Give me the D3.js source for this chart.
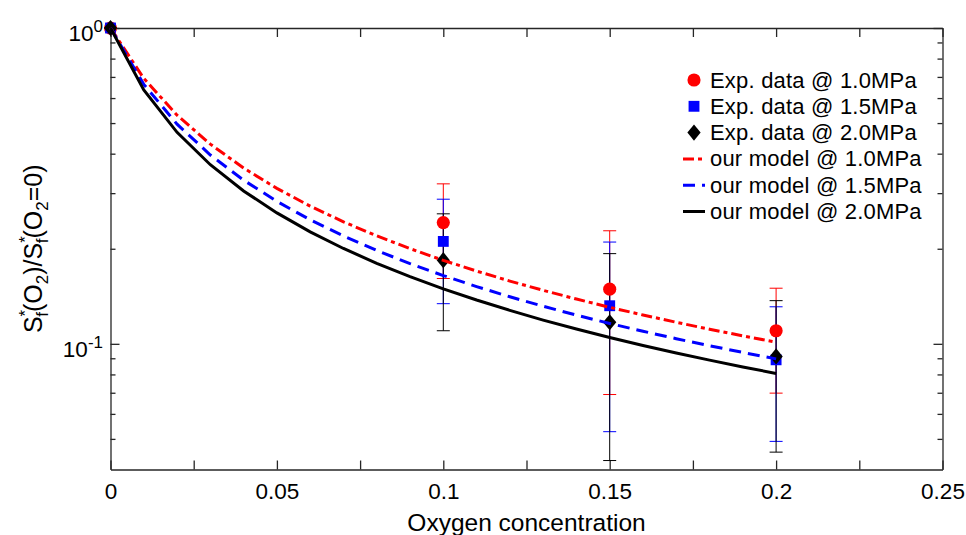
<!DOCTYPE html>
<html>
<head>
<meta charset="utf-8">
<script src="https://cdn.jsdelivr.net/npm/d3@7"></script>
<style>
  html, body { margin: 0; padding: 0; background: #fff; }
  svg { display: block; font-family: "Liberation Sans", Arial, Helvetica, sans-serif; }
  .axis path, .axis line { stroke: #262626; stroke-width: 1.3; }
  .axis text { fill: #000; }
</style>
</head>
<body>
<svg id="chart" width="966" height="535"></svg>
<script>
// Oxygen concentration at which the experiments were run
const expX = [0, 0.1, 0.15, 0.2];

// Experimental mean and error bounds, per pressure
const exp10 = [1, 0.242, 0.149, 0.110];
const exp10Lo = [1, 0.161, 0.0691, 0.0698];
const exp10Hi = [1, 0.321, 0.228, 0.150];

const exp15 = [1, 0.211, 0.132, 0.089];
const exp15Lo = [1, 0.134, 0.0527, 0.0491];
const exp15Hi = [1, 0.287, 0.210, 0.131];

const exp20 = [1, 0.184, 0.117, 0.0912];
const exp20Lo = [1, 0.110, 0.0427, 0.0454];
const exp20Hi = [1, 0.258, 0.193, 0.137];

// Model predictions on a 0.01 grid
const modelX = [0, 0.01, 0.02, 0.03, 0.04, 0.05, 0.06, 0.07, 0.08, 0.09, 0.10,
                0.11, 0.12, 0.13, 0.14, 0.15, 0.16, 0.17, 0.18, 0.19, 0.20];
const model10 = [1, 0.6925, 0.5297, 0.4288, 0.3602, 0.3106, 0.2729, 0.2434, 0.2197, 0.2002, 0.1838,
                 0.1700, 0.1580, 0.1477, 0.1386, 0.1305, 0.1234, 0.1170, 0.1112, 0.1060, 0.1012];
const model15 = [1, 0.6631, 0.4960, 0.3962, 0.3298, 0.2825, 0.2470, 0.2195, 0.1975, 0.1795, 0.1645,
                 0.1518, 0.1409, 0.1315, 0.1233, 0.1160, 0.1096, 0.1038, 0.0986, 0.0939, 0.0896];
const model20 = [1, 0.6369, 0.4673, 0.3690, 0.3049, 0.2597, 0.2262, 0.2004, 0.1799, 0.1631, 0.1493,
                 0.1376, 0.1276, 0.1189, 0.1114, 0.1047, 0.0988, 0.0935, 0.0888, 0.0845, 0.0806];

// Axis ticks
const xTicks = [0, 0.025, 0.05, 0.075, 0.1, 0.125, 0.15, 0.175, 0.2, 0.225, 0.25];
const xTickLabels = ["0", "0.05", "0.1", "0.15", "0.2", "0.25"];
const xLabelled = [0, 0.05, 0.1, 0.15, 0.2, 0.25];
const yMajor = [0.1, 1];
const yMajorExp = ["-1", "0"];
const yMinor = [0.05, 0.06, 0.07, 0.08, 0.09, 0.2, 0.3, 0.4, 0.5, 0.6, 0.7, 0.8, 0.9];

const legendLabels = ["Exp. data @ 1.0MPa", "Exp. data @ 1.5MPa", "Exp. data @ 2.0MPa",
                      "our model @ 1.0MPa", "our model @ 1.5MPa", "our model @ 2.0MPa"];

const svg = d3.select("#chart");
const x = d3.scaleLinear().domain([0, 0.25]).range([110.5, 942.5]);
const y = d3.scaleLog().domain([0.04, 1]).range([469.5, 28]);

const plotL = x.range()[0], plotR = x.range()[1];
const plotT = y.range()[1], plotB = y.range()[0];

// ---- axes (box with inward ticks) ----
const fmtX = v => {
  const i = xLabelled.findIndex(t => Math.abs(t - v) < 1e-9);
  return i >= 0 ? xTickLabels[i] : "";
};
const gx = svg.append("g").attr("class", "axis")
  .attr("transform", `translate(0,${plotB})`)
  .call(d3.axisBottom(x).tickValues(xTicks).tickSize(-9).tickSizeOuter(0).tickPadding(14).tickFormat(fmtX));
gx.selectAll("text").attr("font-size", 22.5).attr("dy", "0.71em");

svg.append("g").attr("class", "axis")
  .attr("transform", `translate(0,${plotT})`)
  .call(d3.axisTop(x).tickValues(xTicks).tickSize(-9).tickSizeOuter(0).tickFormat(""));

svg.append("g").attr("class", "axis")
  .attr("transform", `translate(${plotL},0)`)
  .call(d3.axisLeft(y).tickValues(yMajor).tickSize(-9).tickSizeOuter(0).tickFormat(""));
svg.append("g").attr("class", "axis")
  .attr("transform", `translate(${plotL},0)`)
  .call(d3.axisLeft(y).tickValues(yMinor).tickSize(-5).tickSizeOuter(0).tickFormat(""))
  .select(".domain").remove();

svg.append("g").attr("class", "axis")
  .attr("transform", `translate(${plotR},0)`)
  .call(d3.axisRight(y).tickValues(yMajor).tickSize(-9).tickSizeOuter(0).tickFormat(""));
svg.append("g").attr("class", "axis")
  .attr("transform", `translate(${plotR},0)`)
  .call(d3.axisRight(y).tickValues(yMinor).tickSize(-5).tickSizeOuter(0).tickFormat(""))
  .select(".domain").remove();

// power-of-ten labels on the log axis
yMajor.forEach((v, i) => {
  const t = svg.append("text")
    .attr("x", plotL - 7.5)
    .attr("y", y(v) + 13)
    .attr("text-anchor", "end")
    .attr("font-size", 22.5)
    .attr("fill", "#000");
  t.append("tspan").text("10");
  t.append("tspan").attr("dy", -9).attr("font-size", 17).text(yMajorExp[i]);
});

// ---- axis titles ----
svg.append("text")
  .attr("x", (plotL + plotR) / 2)
  .attr("y", 531)
  .attr("text-anchor", "middle")
  .attr("font-size", 24.5)
  .attr("fill", "#000")
  .text("Oxygen concentration");

const yl = svg.append("text")
  .attr("transform", `translate(42,${(plotT + plotB) / 2}) rotate(-90)`)
  .attr("text-anchor", "middle")
  .attr("font-size", 25)
  .attr("fill", "#000");
function sStar(sel) {
  sel.append("tspan").text("S");
  sel.append("tspan").attr("dy", -11).attr("font-size", 17).text("*");
  sel.append("tspan").attr("dx", -7).attr("dy", 17).attr("font-size", 17).text("f");
  sel.append("tspan").attr("dy", -6).text("(O");
  sel.append("tspan").attr("dy", 6).attr("font-size", 17).text("2");
}
sStar(yl);
yl.append("tspan").attr("dy", -6).text(")/");
sStar(yl);
yl.append("tspan").attr("dy", -6).text("=0)");

// ---- experimental data with error bars ----
const series = [
  { v: exp10, lo: exp10Lo, hi: exp10Hi, color: "#ff0000", shape: "circle" },
  { v: exp15, lo: exp15Lo, hi: exp15Hi, color: "#0000ff", shape: "square" },
  { v: exp20, lo: exp20Lo, hi: exp20Hi, color: "#000000", shape: "diamond" }
];
// plain rhombus, a little taller than wide
const rhombus = {
  draw(ctx, size) {
    const h = Math.sqrt(size) * 0.62, w = h * 0.82;
    ctx.moveTo(0, -h); ctx.lineTo(w, 0); ctx.lineTo(0, h); ctx.lineTo(-w, 0); ctx.closePath();
  }
};
const symbols = {
  circle: d3.symbol(d3.symbolCircle, 136),
  square: d3.symbol(d3.symbolSquare, 118),
  diamond: d3.symbol(rhombus, 170)
};
const capHalf = 6.5;

series.forEach(s => {
  const g = svg.append("g");
  expX.forEach((xv, i) => {
    const cx = x(xv);
    g.append("line").attr("x1", cx).attr("x2", cx)
      .attr("y1", y(s.lo[i])).attr("y2", y(s.hi[i]))
      .attr("stroke", s.color).attr("stroke-width", 1);
    [s.lo[i], s.hi[i]].forEach(b => {
      g.append("line").attr("x1", cx - capHalf).attr("x2", cx + capHalf)
        .attr("y1", y(b)).attr("y2", y(b))
        .attr("stroke", s.color).attr("stroke-width", 1);
    });
  });
});
series.forEach(s => {
  svg.append("g").selectAll("path").data(expX).join("path")
    .attr("transform", (d, i) => `translate(${x(d)},${y(s.v[i])})`)
    .attr("d", symbols[s.shape]())
    .attr("fill", s.color);
});

// ---- model curves ----
const models = [
  { v: model10, color: "#ff0000", dash: "11,4,4,4" },
  { v: model15, color: "#0000ff", dash: "12,7" },
  { v: model20, color: "#000000", dash: null }
];
const line = d3.line();
models.forEach(m => {
  svg.append("path")
    .attr("d", line(modelX.map((xv, i) => [x(xv), y(m.v[i])])))
    .attr("fill", "none")
    .attr("stroke", m.color)
    .attr("stroke-width", 3)
    .attr("stroke-dasharray", m.dash);
});

// ---- legend ----
const leg = svg.append("g").attr("transform", "translate(0,80)");
const rowH = 26.3;
legendLabels.forEach((lab, i) => {
  const cy = i * rowH;
  if (i < 3) {
    const s = series[i];
    leg.append("path")
      .attr("transform", `translate(694,${cy})`)
      .attr("d", symbols[s.shape]())
      .attr("fill", s.color);
  } else {
    const m = models[i - 3];
    leg.append("line").attr("x1", 683).attr("x2", 705).attr("y1", cy).attr("y2", cy)
      .attr("stroke", m.color).attr("stroke-width", 3).attr("stroke-dasharray", m.dash);
  }
  leg.append("text")
    .attr("x", 710).attr("y", cy + 7.5)
    .attr("font-size", 22)
    .attr("letter-spacing", 0.2)
    .attr("fill", "#000")
    .text(lab);
});
</script>
</body>
</html>
